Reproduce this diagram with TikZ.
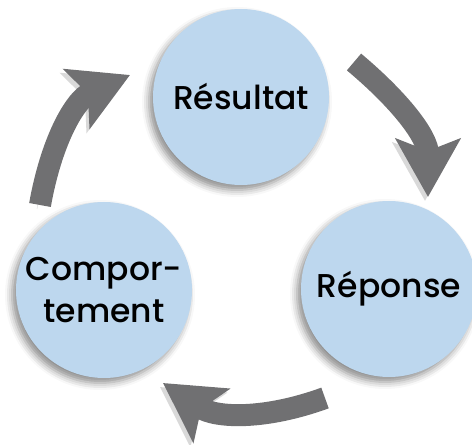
\documentclass[tikz,border=0pt]{standalone}
\usepackage{fontspec}
\setmainfont{Poppins}[UprightFont=* Medium]
\usepackage{xcolor}
\usepackage{tikz}
\usetikzlibrary{arrows.meta,shadows.blur}
\definecolor{phasefill}{RGB}{189,215,238}
\definecolor{arrowgray}{RGB}{112,112,114}

\begin{document}
\begin{tikzpicture}[x=1pt,y=1pt]
			\tikzstyle{phase}=[circle, fill=phasefill, minimum size=176pt, inner sep=0pt, align=center, font=\fontsize{33}{42}\selectfont, blur shadow={shadow xshift=-4pt, shadow yshift=-5pt, shadow blur radius=7pt, shadow opacity=45}]
			\tikzset{cycle/.style = {line width=22pt, draw=arrowgray, preaction={draw=black, opacity=0.15, transform canvas={shift={(-3pt,-4pt)}}}, -{Stealth[length=58pt, width=64pt, inset=12pt]}}}
			\useasboundingbox (0,0) rectangle (472,445);
			
			\node[phase](res) at (241,348) {Résultat};
			\node[phase](rep) at (389,156) {Réponse};
			\node[phase](comp) at (104,155) {Compor-\\tement};
			
			\coordinate (res-out) at (354,383);
			\coordinate (rep-in) at (428,248);
			\coordinate (rep-out) at (325,47);
			\coordinate (comp-in) at (163,62);
			\coordinate (comp-out) at (40,240);
			\coordinate (res-in) at (130,370);
			
			\draw[cycle](res-out) to[out=-40, in=90] (rep-in);
			\draw[cycle](rep-out) to[out=200, in=-34] (comp-in);
			\draw[cycle](comp-out) to[out=80, in=-156] (res-in);
			
			\end{tikzpicture}
\end{document}
